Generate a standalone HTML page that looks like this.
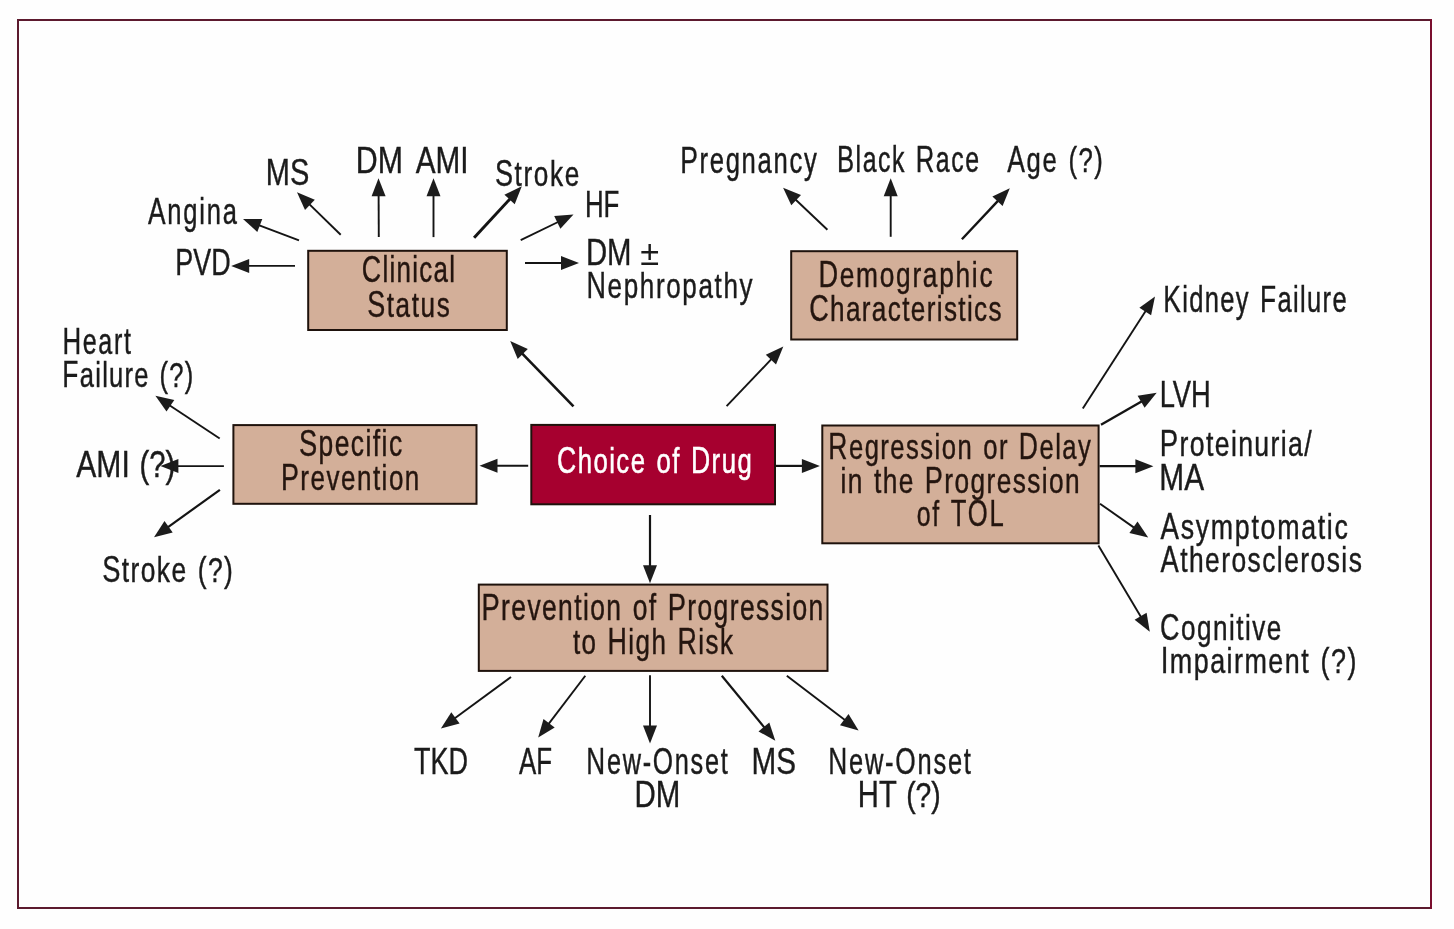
<!DOCTYPE html><html><head><meta charset="utf-8"><style>html,body{margin:0;padding:0;background:#fff;width:1454px;height:929px;overflow:hidden}svg{display:block;will-change:transform}text{font-family:"Liberation Sans",sans-serif;font-size:36px}</style></head><body>
<svg width="1454" height="929" viewBox="0 0 1454 929">
<rect x="0" y="0" width="1454" height="929" fill="#fefefe"/>
<line x1="17" y1="20" x2="1432" y2="20" stroke="#5c1a2e" stroke-width="2"/>
<line x1="18" y1="19" x2="18" y2="909" stroke="#5c1a2e" stroke-width="2"/>
<line x1="17" y1="908" x2="1432" y2="908" stroke="#5c1a2e" stroke-width="2"/>
<line x1="1431" y1="19" x2="1431" y2="909" stroke="#7a0e2e" stroke-width="2"/>
<rect x="308.2" y="250.8" width="198.6" height="79.2" fill="#d3af99" stroke="#1e120c" stroke-width="2"/>
<rect x="791.2" y="251.2" width="226.0" height="88.3" fill="#d3af99" stroke="#1e120c" stroke-width="2"/>
<rect x="822.3" y="425.5" width="276.3" height="117.8" fill="#d3af99" stroke="#1e120c" stroke-width="2"/>
<rect x="233.4" y="425.1" width="243.1" height="78.7" fill="#d3af99" stroke="#1e120c" stroke-width="2"/>
<rect x="531.3" y="424.9" width="243.7" height="79.4" fill="#a6002f" stroke="#1e120c" stroke-width="2"/>
<rect x="478.8" y="584.6" width="348.7" height="86.3" fill="#d3af99" stroke="#1e120c" stroke-width="2"/>
<line x1="299.0" y1="240.4" x2="258.0" y2="224.8" stroke="#141414" stroke-width="1.9"/>
<polygon points="243.0,219.1 262.3,219.0 257.3,232.0" fill="#1c1c1c"/>
<line x1="295.0" y1="265.9" x2="247.2" y2="265.9" stroke="#141414" stroke-width="1.9"/>
<polygon points="231.2,265.9 249.2,258.9 249.2,272.9" fill="#1c1c1c"/>
<line x1="340.7" y1="234.7" x2="308.5" y2="203.4" stroke="#141414" stroke-width="1.9"/>
<polygon points="297.0,192.3 314.8,199.8 305.0,209.9" fill="#1c1c1c"/>
<line x1="378.8" y1="237.1" x2="378.6" y2="194.3" stroke="#141414" stroke-width="1.9"/>
<polygon points="378.5,178.3 385.6,196.3 371.6,196.3" fill="#1c1c1c"/>
<line x1="433.5" y1="237.1" x2="433.5" y2="194.3" stroke="#141414" stroke-width="1.9"/>
<polygon points="433.5,178.3 440.5,196.3 426.5,196.3" fill="#1c1c1c"/>
<line x1="474.1" y1="237.8" x2="510.9" y2="197.9" stroke="#141414" stroke-width="3.0"/>
<polygon points="521.8,186.2 514.7,204.2 504.4,194.7" fill="#1c1c1c"/>
<line x1="520.7" y1="240.1" x2="559.1" y2="221.5" stroke="#141414" stroke-width="1.9"/>
<polygon points="573.5,214.5 560.4,228.7 554.2,216.1" fill="#1c1c1c"/>
<line x1="525.0" y1="263.0" x2="563.0" y2="263.0" stroke="#141414" stroke-width="1.9"/>
<polygon points="579.0,263.0 561.0,270.0 561.0,256.0" fill="#1c1c1c"/>
<line x1="827.4" y1="229.7" x2="794.7" y2="198.7" stroke="#141414" stroke-width="1.9"/>
<polygon points="783.1,187.7 801.0,195.0 791.3,205.2" fill="#1c1c1c"/>
<line x1="890.7" y1="236.8" x2="890.7" y2="194.2" stroke="#141414" stroke-width="1.9"/>
<polygon points="890.7,178.2 897.7,196.2 883.7,196.2" fill="#1c1c1c"/>
<line x1="961.9" y1="239.3" x2="998.9" y2="199.9" stroke="#141414" stroke-width="2.4"/>
<polygon points="1009.8,188.2 1002.6,206.1 992.4,196.5" fill="#1c1c1c"/>
<line x1="1082.8" y1="408.6" x2="1146.3" y2="309.9" stroke="#141414" stroke-width="1.9"/>
<polygon points="1155.0,296.4 1151.1,315.3 1139.4,307.7" fill="#1c1c1c"/>
<line x1="1101.0" y1="424.7" x2="1142.8" y2="400.8" stroke="#141414" stroke-width="2.4"/>
<polygon points="1156.7,392.8 1144.6,407.8 1137.6,395.7" fill="#1c1c1c"/>
<line x1="1099.6" y1="466.2" x2="1137.4" y2="466.2" stroke="#141414" stroke-width="2.2"/>
<polygon points="1153.4,466.2 1135.4,473.2 1135.4,459.2" fill="#1c1c1c"/>
<line x1="1100.0" y1="503.7" x2="1135.1" y2="528.4" stroke="#141414" stroke-width="1.9"/>
<polygon points="1148.2,537.6 1129.4,533.0 1137.5,521.5" fill="#1c1c1c"/>
<line x1="1098.4" y1="545.6" x2="1141.6" y2="618.0" stroke="#141414" stroke-width="1.9"/>
<polygon points="1149.8,631.7 1134.6,619.8 1146.6,612.7" fill="#1c1c1c"/>
<line x1="219.7" y1="438.5" x2="168.7" y2="404.7" stroke="#141414" stroke-width="1.9"/>
<polygon points="155.4,395.8 174.3,399.9 166.5,411.6" fill="#1c1c1c"/>
<line x1="223.9" y1="466.1" x2="176.4" y2="466.1" stroke="#141414" stroke-width="1.9"/>
<polygon points="160.4,466.1 178.4,459.1 178.4,473.1" fill="#1c1c1c"/>
<line x1="219.9" y1="489.8" x2="167.0" y2="527.9" stroke="#141414" stroke-width="2.2"/>
<polygon points="154.0,537.2 164.5,521.0 172.7,532.4" fill="#1c1c1c"/>
<line x1="528.2" y1="465.7" x2="495.5" y2="465.7" stroke="#141414" stroke-width="1.9"/>
<polygon points="479.5,465.7 497.5,458.7 497.5,472.7" fill="#1c1c1c"/>
<line x1="573.5" y1="406.3" x2="521.3" y2="352.6" stroke="#141414" stroke-width="2.6"/>
<polygon points="510.2,341.1 527.8,349.1 517.7,358.9" fill="#1c1c1c"/>
<line x1="726.6" y1="406.2" x2="772.3" y2="358.2" stroke="#141414" stroke-width="1.9"/>
<polygon points="783.3,346.6 776.0,364.5 765.8,354.8" fill="#1c1c1c"/>
<line x1="776.0" y1="465.9" x2="803.9" y2="465.9" stroke="#141414" stroke-width="2.2"/>
<polygon points="819.9,465.9 801.9,472.9 801.9,458.9" fill="#1c1c1c"/>
<line x1="650.0" y1="515.0" x2="650.0" y2="567.3" stroke="#141414" stroke-width="2.2"/>
<polygon points="650.0,583.3 643.0,565.3 657.0,565.3" fill="#1c1c1c"/>
<line x1="511.0" y1="677.0" x2="453.8" y2="719.0" stroke="#141414" stroke-width="1.9"/>
<polygon points="440.9,728.5 451.3,712.2 459.6,723.5" fill="#1c1c1c"/>
<line x1="585.3" y1="675.7" x2="547.9" y2="724.9" stroke="#141414" stroke-width="1.9"/>
<polygon points="538.2,737.6 543.5,719.0 554.7,727.5" fill="#1c1c1c"/>
<line x1="650.0" y1="675.3" x2="650.0" y2="727.4" stroke="#141414" stroke-width="1.9"/>
<polygon points="650.0,743.4 643.0,725.4 657.0,725.4" fill="#1c1c1c"/>
<line x1="721.8" y1="675.8" x2="765.1" y2="728.4" stroke="#141414" stroke-width="2.2"/>
<polygon points="775.3,740.8 758.5,731.4 769.3,722.5" fill="#1c1c1c"/>
<line x1="786.8" y1="675.8" x2="845.9" y2="720.8" stroke="#141414" stroke-width="1.9"/>
<polygon points="858.6,730.5 840.0,725.2 848.5,714.0" fill="#1c1c1c"/>
<text transform="matrix(0.7784 0 0 1.000 265.86 185.20)" fill="#1b1b1b" stroke="#1b1b1b" stroke-width="0.40" vector-effect="non-scaling-stroke" word-spacing="2" letter-spacing="0.000"><tspan font-size="37.2">MS</tspan></text>
<text transform="matrix(0.8154 0 0 1.000 355.75 172.70)" fill="#1b1b1b" stroke="#1b1b1b" stroke-width="0.40" vector-effect="non-scaling-stroke" word-spacing="2" letter-spacing="0.000"><tspan font-size="37.2">DM</tspan></text>
<text transform="matrix(0.7984 0 0 1.000 415.70 172.70)" fill="#1b1b1b" stroke="#1b1b1b" stroke-width="0.40" vector-effect="non-scaling-stroke" word-spacing="2" letter-spacing="0.000"><tspan font-size="37.2">AMI</tspan></text>
<text transform="matrix(0.7271 0 0 1.000 494.95 185.70)" fill="#1b1b1b" stroke="#1b1b1b" stroke-width="0.40" vector-effect="non-scaling-stroke" word-spacing="2" letter-spacing="2.244"><tspan font-size="37.2">S</tspan>troke</text>
<text transform="matrix(0.7081 0 0 1.000 148.00 223.90)" fill="#1b1b1b" stroke="#1b1b1b" stroke-width="0.40" vector-effect="non-scaling-stroke" word-spacing="2" letter-spacing="2.511"><tspan font-size="37.2">A</tspan>ngina</text>
<text transform="matrix(0.6956 0 0 1.000 584.91 216.50)" fill="#1b1b1b" stroke="#1b1b1b" stroke-width="0.40" vector-effect="non-scaling-stroke" word-spacing="2" letter-spacing="0.000"><tspan font-size="37.2">HF</tspan></text>
<text transform="matrix(0.7236 0 0 1.000 175.33 274.80)" fill="#1b1b1b" stroke="#1b1b1b" stroke-width="0.40" vector-effect="non-scaling-stroke" word-spacing="2" letter-spacing="0.000"><tspan font-size="37.2">PVD</tspan></text>
<text transform="matrix(0.7885 0 0 1.000 585.93 264.70)" fill="#1b1b1b" stroke="#1b1b1b" stroke-width="0.40" vector-effect="non-scaling-stroke" word-spacing="2" letter-spacing="0.000"><tspan font-size="37.2">DM</tspan></text>
<text transform="matrix(0.7240 0 0 1.000 586.43 298.10)" fill="#1b1b1b" stroke="#1b1b1b" stroke-width="0.40" vector-effect="non-scaling-stroke" word-spacing="2" letter-spacing="2.267"><tspan font-size="37.2">N</tspan>ephropathy</text>
<text transform="matrix(0.7192 0 0 1.000 361.86 282.00)" fill="#24150f" stroke="#24150f" stroke-width="0.40" vector-effect="non-scaling-stroke" word-spacing="2" letter-spacing="1.794"><tspan font-size="37.2">C</tspan>linical</text>
<text transform="matrix(0.7254 0 0 1.000 367.15 317.00)" fill="#24150f" stroke="#24150f" stroke-width="0.40" vector-effect="non-scaling-stroke" word-spacing="2" letter-spacing="2.222"><tspan font-size="37.2">S</tspan>tatus</text>
<text transform="matrix(0.7121 0 0 1.000 680.16 173.00)" fill="#1b1b1b" stroke="#1b1b1b" stroke-width="0.40" vector-effect="non-scaling-stroke" word-spacing="2" letter-spacing="2.361"><tspan font-size="37.2">P</tspan>regnancy</text>
<text transform="matrix(0.6902 0 0 1.000 836.93 171.90)" fill="#1b1b1b" stroke="#1b1b1b" stroke-width="0.40" vector-effect="non-scaling-stroke" word-spacing="2" letter-spacing="2.235"><tspan font-size="37.2">B</tspan>lack <tspan font-size="37.2">R</tspan>ace</text>
<text transform="matrix(0.7132 0 0 1.000 1007.30 171.90)" fill="#1b1b1b" stroke="#1b1b1b" stroke-width="0.40" vector-effect="non-scaling-stroke" word-spacing="2" letter-spacing="2.204"><tspan font-size="37.2">A</tspan>ge (?)</text>
<text transform="matrix(0.7307 0 0 1.000 818.41 286.90)" fill="#24150f" stroke="#24150f" stroke-width="0.40" vector-effect="non-scaling-stroke" word-spacing="2" letter-spacing="2.344"><tspan font-size="37.2">D</tspan>emographic</text>
<text transform="matrix(0.7261 0 0 1.000 809.15 321.40)" fill="#24150f" stroke="#24150f" stroke-width="0.40" vector-effect="non-scaling-stroke" word-spacing="2" letter-spacing="1.873"><tspan font-size="37.2">C</tspan>haracteristics</text>
<text transform="matrix(0.7084 0 0 1.000 1163.17 312.30)" fill="#1b1b1b" stroke="#1b1b1b" stroke-width="0.40" vector-effect="non-scaling-stroke" word-spacing="2" letter-spacing="1.957"><tspan font-size="37.2">K</tspan>idney <tspan font-size="37.2">F</tspan>ailure</text>
<text transform="matrix(0.7359 0 0 1.000 1159.69 406.90)" fill="#1b1b1b" stroke="#1b1b1b" stroke-width="0.40" vector-effect="non-scaling-stroke" word-spacing="2" letter-spacing="0.000"><tspan font-size="37.2">LVH</tspan></text>
<text transform="matrix(0.7408 0 0 1.000 1159.78 455.50)" fill="#1b1b1b" stroke="#1b1b1b" stroke-width="0.40" vector-effect="non-scaling-stroke" word-spacing="2" letter-spacing="1.838"><tspan font-size="37.2">P</tspan>roteinuria/</text>
<text transform="matrix(0.8019 0 0 1.000 1159.29 489.80)" fill="#1b1b1b" stroke="#1b1b1b" stroke-width="0.40" vector-effect="non-scaling-stroke" word-spacing="2" letter-spacing="0.000"><tspan font-size="37.2">MA</tspan></text>
<text transform="matrix(0.7439 0 0 1.000 1160.50 538.60)" fill="#1b1b1b" stroke="#1b1b1b" stroke-width="0.40" vector-effect="non-scaling-stroke" word-spacing="2" letter-spacing="2.283"><tspan font-size="37.2">A</tspan>symptomatic</text>
<text transform="matrix(0.7343 0 0 1.000 1160.50 572.10)" fill="#1b1b1b" stroke="#1b1b1b" stroke-width="0.40" vector-effect="non-scaling-stroke" word-spacing="2" letter-spacing="1.952"><tspan font-size="37.2">A</tspan>therosclerosis</text>
<text transform="matrix(0.7249 0 0 1.000 1160.05 639.55)" fill="#1b1b1b" stroke="#1b1b1b" stroke-width="0.40" vector-effect="non-scaling-stroke" word-spacing="2" letter-spacing="2.042"><tspan font-size="37.2">C</tspan>ognitive</text>
<text transform="matrix(0.7469 0 0 1.000 1160.66 672.60)" fill="#1b1b1b" stroke="#1b1b1b" stroke-width="0.40" vector-effect="non-scaling-stroke" word-spacing="2" letter-spacing="1.974"><tspan font-size="37.2">I</tspan>mpairment (?)</text>
<text transform="matrix(0.7126 0 0 1.000 828.36 458.60)" fill="#24150f" stroke="#24150f" stroke-width="0.40" vector-effect="non-scaling-stroke" word-spacing="2" letter-spacing="2.031"><tspan font-size="37.2">R</tspan>egression or <tspan font-size="37.2">D</tspan>elay</text>
<text transform="matrix(0.7305 0 0 1.000 840.54 492.70)" fill="#24150f" stroke="#24150f" stroke-width="0.40" vector-effect="non-scaling-stroke" word-spacing="2" letter-spacing="1.902">in the <tspan font-size="37.2">P</tspan>rogression</text>
<text transform="matrix(0.6900 0 0 1.000 916.72 526.20)" fill="#24150f" stroke="#24150f" stroke-width="0.40" vector-effect="non-scaling-stroke" word-spacing="2" letter-spacing="2.467">of <tspan font-size="37.2">TOL</tspan></text>
<text transform="matrix(0.6959 0 0 1.000 62.41 353.70)" fill="#1b1b1b" stroke="#1b1b1b" stroke-width="0.40" vector-effect="non-scaling-stroke" word-spacing="2" letter-spacing="2.389"><tspan font-size="37.2">H</tspan>eart</text>
<text transform="matrix(0.7089 0 0 1.000 62.37 387.00)" fill="#1b1b1b" stroke="#1b1b1b" stroke-width="0.40" vector-effect="non-scaling-stroke" word-spacing="2" letter-spacing="1.800"><tspan font-size="37.2">F</tspan>ailure (?)</text>
<text transform="matrix(0.8092 0 0 1.000 76.30 476.60)" fill="#1b1b1b" stroke="#1b1b1b" stroke-width="0.40" vector-effect="non-scaling-stroke" word-spacing="2" letter-spacing="0.000"><tspan font-size="37.2">AMI</tspan> (?)</text>
<text transform="matrix(0.7326 0 0 1.000 102.23 581.80)" fill="#1b1b1b" stroke="#1b1b1b" stroke-width="0.40" vector-effect="non-scaling-stroke" word-spacing="2" letter-spacing="1.938"><tspan font-size="37.2">S</tspan>troke (?)</text>
<text transform="matrix(0.7338 0 0 1.000 298.93 456.30)" fill="#24150f" stroke="#24150f" stroke-width="0.40" vector-effect="non-scaling-stroke" word-spacing="2" letter-spacing="1.968"><tspan font-size="37.2">S</tspan>pecific</text>
<text transform="matrix(0.7227 0 0 1.000 280.93 489.70)" fill="#24150f" stroke="#24150f" stroke-width="0.40" vector-effect="non-scaling-stroke" word-spacing="2" letter-spacing="2.074"><tspan font-size="37.2">P</tspan>revention</text>
<text transform="matrix(0.7144 0 0 1.000 556.97 473.00)" fill="#ffffff" stroke="#ffffff" stroke-width="0.50" vector-effect="non-scaling-stroke" word-spacing="2" letter-spacing="2.068"><tspan font-size="37.2">C</tspan>hoice of <tspan font-size="37.2">D</tspan>rug</text>
<text transform="matrix(0.7337 0 0 1.000 481.50 619.70)" fill="#24150f" stroke="#24150f" stroke-width="0.40" vector-effect="non-scaling-stroke" word-spacing="2" letter-spacing="1.921"><tspan font-size="37.2">P</tspan>revention of <tspan font-size="37.2">P</tspan>rogression</text>
<text transform="matrix(0.7214 0 0 1.000 572.88 654.20)" fill="#24150f" stroke="#24150f" stroke-width="0.40" vector-effect="non-scaling-stroke" word-spacing="2" letter-spacing="2.010">to <tspan font-size="37.2">H</tspan>igh <tspan font-size="37.2">R</tspan>isk</text>
<text transform="matrix(0.7264 0 0 1.000 413.97 774.30)" fill="#1b1b1b" stroke="#1b1b1b" stroke-width="0.40" vector-effect="non-scaling-stroke" word-spacing="2" letter-spacing="0.000"><tspan font-size="37.2">TKD</tspan></text>
<text transform="matrix(0.6957 0 0 1.000 519.00 774.30)" fill="#1b1b1b" stroke="#1b1b1b" stroke-width="0.40" vector-effect="non-scaling-stroke" word-spacing="2" letter-spacing="0.000"><tspan font-size="37.2">AF</tspan></text>
<text transform="matrix(0.7014 0 0 1.000 586.30 774.30)" fill="#1b1b1b" stroke="#1b1b1b" stroke-width="0.40" vector-effect="non-scaling-stroke" word-spacing="2" letter-spacing="2.486"><tspan font-size="37.2">N</tspan>ew-<tspan font-size="37.2">O</tspan>nset</text>
<text transform="matrix(0.7923 0 0 1.000 634.52 807.30)" fill="#1b1b1b" stroke="#1b1b1b" stroke-width="0.40" vector-effect="non-scaling-stroke" word-spacing="2" letter-spacing="0.000"><tspan font-size="37.2">DM</tspan></text>
<text transform="matrix(0.7980 0 0 1.000 751.41 774.40)" fill="#1b1b1b" stroke="#1b1b1b" stroke-width="0.40" vector-effect="non-scaling-stroke" word-spacing="2" letter-spacing="0.000"><tspan font-size="37.2">MS</tspan></text>
<text transform="matrix(0.7069 0 0 1.000 828.28 774.40)" fill="#1b1b1b" stroke="#1b1b1b" stroke-width="0.40" vector-effect="non-scaling-stroke" word-spacing="2" letter-spacing="2.486"><tspan font-size="37.2">N</tspan>ew-<tspan font-size="37.2">O</tspan>nset</text>
<text transform="matrix(0.7850 0 0 1.000 857.85 807.00)" fill="#1b1b1b" stroke="#1b1b1b" stroke-width="0.40" vector-effect="non-scaling-stroke" word-spacing="2" letter-spacing="0.000"><tspan font-size="37.2">HT</tspan> (?)</text>
<text transform="matrix(0.9556 0 0 1 640.14 264.70)" fill="#1b1b1b">±</text>
</svg></body></html>
